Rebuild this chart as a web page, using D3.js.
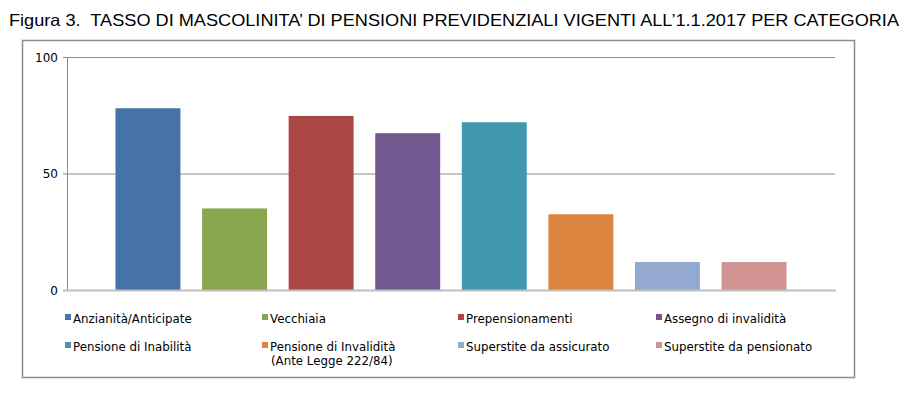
<!DOCTYPE html>
<html>
<head>
<meta charset="utf-8">
<script src="https://cdn.jsdelivr.net/npm/d3@7"></script>
<style>
  body { margin: 0; background: #fff; }
  svg { display: block; }
</style>
</head>
<body>
<svg id="chart" width="908" height="394"></svg>
<script>
const categories = [
  "Anzianità/Anticipate", "Vecchiaia", "Prepensionamenti", "Assegno di invalidità",
  "Pensione di Inabilità", "Pensione di Invalidità\n(Ante Legge 222/84)",
  "Superstite da assicurato", "Superstite da pensionato"
];
const values = [78, 35, 74.7, 67.3, 72, 32.5, 12, 12];
const colors = ["#4572a7", "#89a54e", "#aa4643", "#71588f", "#4198af", "#db843d", "#93a9cf", "#d19392"];
const yTicks = [0, 50, 100];

const width = 908;
const height = 394;
const svg = d3.select("#chart");

// title
svg.append("text")
  .attr("x", 9)
  .attr("y", 26)
  .attr("font-family", "Liberation Sans Narrow, Arial Narrow, Liberation Sans, sans-serif")
  .attr("font-size", 16.5)
  .attr("fill", "#000")
  .attr("textLength", 890)
  .attr("lengthAdjust", "spacingAndGlyphs")
  .style("white-space", "pre")
  .text("Figura 3.  TASSO DI MASCOLINITA’ DI PENSIONI PREVIDENZIALI VIGENTI ALL’1.1.2017 PER CATEGORIA");

// frame
svg.append("rect")
  .attr("x", 22.5)
  .attr("y", 40.5)
  .attr("width", 832)
  .attr("height", 337)
  .attr("fill", "none")
  .attr("stroke", "#8c8c8c")
  .attr("stroke-width", 1.5);

const x = d3.scaleBand()
  .domain(categories)
  .range([67, 835])
  .paddingInner(0.25)
  .paddingOuter(0.56);

const y = d3.scaleLinear()
  .domain([0, 100])
  .range([290, 57]);

// grid lines
svg.selectAll("line.grid")
  .data(yTicks.filter(d => d > 0))
  .join("line")
  .attr("class", "grid")
  .attr("x1", 63)
  .attr("x2", 835)
  .attr("y1", d => y(d) + 0.5)
  .attr("y2", d => y(d) + 0.5)
  .attr("stroke", "#8c8c8c")
  .attr("stroke-width", 1);

// bars
svg.selectAll("rect.bar")
  .data(categories)
  .join("rect")
  .attr("class", "bar")
  .attr("x", d => x(d))
  .attr("y", (d, i) => y(values[i]))
  .attr("width", x.bandwidth())
  .attr("height", (d, i) => y(0) - y(values[i]))
  .attr("fill", (d, i) => colors[i]);

// y axis line
svg.append("line")
  .attr("x1", 67.5).attr("x2", 67.5)
  .attr("y1", 57).attr("y2", 291)
  .attr("stroke", "#8c8c8c");

// zero axis
svg.append("line")
  .attr("x1", 63).attr("x2", 836)
  .attr("y1", y(0) + 0.5).attr("y2", y(0) + 0.5)
  .attr("stroke", "#bfbfbf")
  .attr("stroke-width", 2);

// y tick labels
svg.selectAll("text.ytick")
  .data(yTicks)
  .join("text")
  .attr("class", "ytick")
  .attr("x", 58)
  .attr("y", d => y(d) + 4.5)
  .attr("text-anchor", "end")
  .attr("font-family", "DejaVu Sans, Verdana, sans-serif")
  .attr("font-size", 12)
  .text(d => d);

// legend
const legendX = [65, 262, 458, 656];
const legendY = [318, 346];
const legend = svg.selectAll("g.legend")
  .data(categories)
  .join("g")
  .attr("class", "legend")
  .attr("transform", (d, i) => `translate(${legendX[i % 4]},${legendY[Math.floor(i / 4)]})`);

legend.append("rect")
  .attr("x", 0)
  .attr("y", -4)
  .attr("width", 6)
  .attr("height", 6)
  .attr("fill", (d, i) => colors[i]);

legend.append("text")
  .attr("font-family", "DejaVu Sans, Verdana, sans-serif")
  .attr("font-size", 11.8)
  .attr("fill", "#000")
  .selectAll("tspan")
  .data(d => d.split("\n"))
  .join("tspan")
  .attr("x", (d, i) => i === 0 ? 8 : 9)
  .attr("dy", (d, i) => i === 0 ? 4.5 : 14)
  .text(d => d);
</script>
</body>
</html>
